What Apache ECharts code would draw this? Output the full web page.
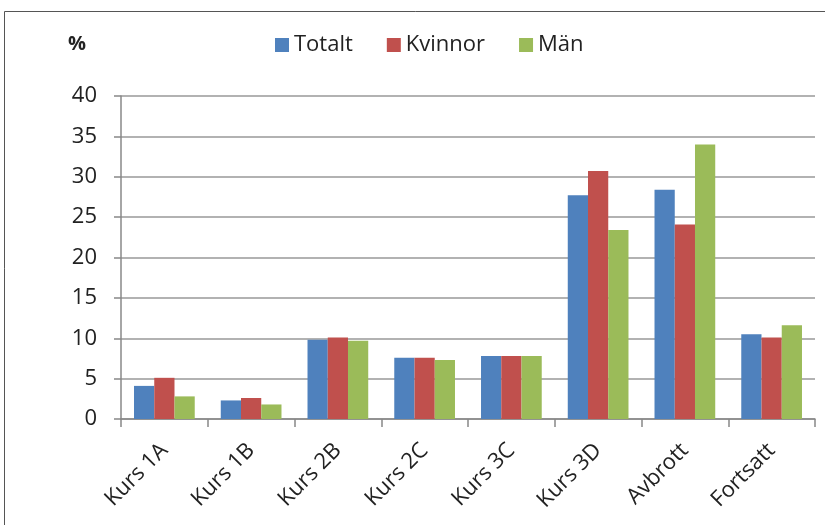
<!DOCTYPE html>
<html>
<head>
<meta charset="utf-8">
<script src="https://cdn.jsdelivr.net/npm/echarts@6/dist/echarts.min.js"></script>
<style>
  html, body { margin: 0; padding: 0; background: #fff; }
  #chart { width: 825px; height: 525px; }
</style>
</head>
<body>
<div id="chart"></div>
<script>
  const categories = ['Kurs 1A', 'Kurs 1B', 'Kurs 2B', 'Kurs 2C', 'Kurs 3C', 'Kurs 3D', 'Avbrott', 'Fortsatt'];
  const totalt = [4.1, 2.3, 9.8, 7.6, 7.8, 27.7, 28.4, 10.5];
  const kvinnor = [5.1, 2.6, 10.1, 7.6, 7.8, 30.7, 24.1, 10.1];
  const man = [2.8, 1.8, 9.7, 7.3, 7.8, 23.4, 34.0, 11.6];
  const yTicks = [0, 40, 5];

  const font = 'Open Sans';
  let myChart = echarts.init(document.getElementById('chart'));
  myChart.setOption({
    animation: false,
    color: ['#4F81BD', '#C0504D', '#9BBB59'],
    textStyle: { fontFamily: font },
    graphic: [
      {
        type: 'rect',
        shape: { x: 4.5, y: 11.5, width: 830, height: 530 },
        style: { fill: 'none', stroke: '#555', lineWidth: 1 }
      },
      {
        type: 'text',
        left: 68, top: 34,
        style: { text: '%', font: 'bold 20px "Open Sans"', fill: '#222' }
      }
    ],
    legend: {
      top: 29,
      left: 270,
      itemWidth: 14,
      itemHeight: 14,
      itemGap: 34,
      icon: 'rect',
      textStyle: { fontSize: 22, color: '#222', fontFamily: font },
      data: ['Totalt', 'Kvinnor', 'Män']
    },
    grid: { left: 121, right: 10, top: 96, bottom: 106 },
    xAxis: {
      type: 'category',
      data: categories,
      axisLine: { lineStyle: { color: '#888', width: 1.5 } },
      axisTick: { show: true, length: 8, lineStyle: { color: '#888', width: 1.5 } },
      axisLabel: { rotate: 45, fontSize: 22, color: '#222', margin: 28 }
    },
    yAxis: {
      type: 'value',
      min: yTicks[0],
      max: yTicks[1],
      interval: yTicks[2],
      axisLine: { show: true, lineStyle: { color: '#888', width: 1.5 } },
      axisTick: { show: true, length: 7, lineStyle: { color: '#888', width: 1.5 } },
      axisLabel: { fontSize: 22, color: '#222', margin: 24 },
      splitLine: { lineStyle: { color: '#999', width: 1.5 } }
    },
    series: [
      { name: 'Totalt', type: 'bar', data: totalt, barGap: '0%', barCategoryGap: '30%' },
      { name: 'Kvinnor', type: 'bar', data: kvinnor, barGap: '0%', barCategoryGap: '30%' },
      { name: 'Män', type: 'bar', data: man, barGap: '0%', barCategoryGap: '30%' }
    ]
  });
</script>
</body>
</html>
